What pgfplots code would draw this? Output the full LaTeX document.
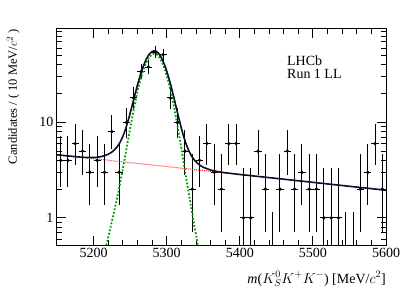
\documentclass[border=0pt]{standalone}
\usepackage{fontspec}
\setmainfont{Liberation Serif}
\usepackage{pgfplots}
\pgfplotsset{compat=1.18}
\usepackage{pgfplotstable}
\definecolor{fitnavy}{RGB}{15,15,45}
\definecolor{siggreen}{RGB}{0,160,0}
\definecolor{bkgred}{RGB}{255,40,40}

\pgfplotstableread{
m n ep em
5155 4 3.163 1.914
5165 4 3.163 1.914
5175 6 3.583 2.380
5185 5 3.382 2.160
5195 3 2.918 1.633
5205 4 3.163 1.914
5215 3 2.918 1.633
5225 8 3.945 2.768
5235 3 2.918 1.633
5245 10 4.266 3.109
5255 18 5.330 4.213
5265 34 6.895 5.809
5275 38 7.225 6.144
5285 54 8.399 7.331
5295 51 8.194 7.124
5305 18 5.330 4.213
5315 10 4.266 3.109
5325 5 3.382 2.160
5335 2 2.638 1.292
5345 4 3.163 1.914
5355 6 3.583 2.380
5365 3 2.918 1.633
5375 2 2.638 1.292
5385 6 3.583 2.380
5395 6 3.583 2.380
5405 1 2.300 0.827
5415 1 2.300 0.827
5425 5 3.382 2.160
5435 2 2.638 1.292
5455 2 2.638 1.292
5465 5 3.382 2.160
5475 2 2.638 1.292
5485 3 2.918 1.633
5495 2 2.638 1.292
5505 2 2.638 1.292
5515 1 2.300 0.827
5525 1 2.300 0.827
5535 1 2.300 0.827
5565 2 2.638 1.292
5575 3 2.918 1.633
5585 6 3.583 2.380
5595 2 2.638 1.292
}\datatab

% empty bins (0 candidates): drawn as upper error bar only
\pgfplotstableread{
m n ep em
5445 0.0001 1.147 0
5545 0.0001 1.147 0
5555 0.0001 1.147 0
}\zerotab

\begin{document}
\begin{tikzpicture}
\useasboundingbox (-57pt,-47pt) rectangle (350pt,245pt);
\begin{axis}[
  at={(0,0)}, anchor=south west,
  scale only axis, width=329pt, height=216pt,
  xmin=5150, xmax=5600, ymode=log, ymin=0.52, ymax=95,
  xtick={5200,5300,5400,5500,5600}, minor x tick num=4,
  ytick={1,10}, yticklabels={1,10},
  minor ytick={0.6,0.7,0.8,0.9,2,3,4,5,6,7,8,9,20,30,40,50,60,70,80,90},
  major tick length=9pt, minor tick length=5pt,
  tick style={black, line width=0.8pt},
  axis line style={line width=1pt},
  ticklabel style={font=\fontsize{14}{16}\selectfont},
  /pgf/number format/assume math mode=true,
  /pgf/number format/1000 sep={},
  xlabel={\textit{m}($K^0_S K^+K^-$) [MeV/$c^2$]},
  ylabel={Candidates / ( 10 MeV/$c^2$ )},
  xlabel style={at={(axis description cs:1,0)}, anchor=base east, yshift=-38pt, inner sep=0pt, font=\fontsize{14}{16}\selectfont},
  ylabel style={at={(axis description cs:-0.1216,1)}, anchor=base east, inner sep=0pt, font=\fontsize{12.5}{14}\selectfont},
]
\addplot[only marks, mark=*, mark size=1.5pt, black,
  error bars/.cd, x dir=both, x fixed=5, y dir=both, y explicit,
  error bar style={line width=1pt, black}, error mark=none]
  table[x=m, y=n, y error plus=ep, y error minus=em] {\datatab};
\addplot[only marks, mark=none,
  error bars/.cd, y dir=plus, y explicit,
  error bar style={line width=1pt, black}, error mark=none]
  table[x=m, y=n, y error plus=ep, y error minus=em] {\zerotab};
% background
\addplot[bkgred, line width=1pt, dash pattern=on 1pt off 1pt] coordinates {
(5150,4.580) (5300,3.444) (5450,2.590) (5600,1.948)};
% signal
\addplot[siggreen, line width=1.8pt, dash pattern=on 1.8pt off 1.8pt] coordinates {
(5205,0.187) (5210,0.286) (5215,0.427) (5220,0.627) (5224,0.848) (5228,1.152)
(5232,1.588) (5236,2.241) (5240,3.239) (5244,4.772) (5248,7.081) (5252,10.42)
(5256,14.99) (5260,20.83) (5264,27.72) (5268,35.14) (5272,42.25) (5276,48.06)
(5280,51.65) (5283,52.50) (5286,51.65) (5290,48.03) (5294,42.17) (5298,35.00)
(5302,27.51) (5306,20.56) (5310,14.65) (5314,10.04) (5318,6.67) (5322,4.347)
(5326,2.818) (5330,1.838) (5334,1.216) (5338,0.819) (5342,0.557) (5346,0.381)
(5350,0.260) (5360,0.094)};
% total
\addplot[fitnavy, line width=1.6pt] coordinates {
(5150,4.580) (5160,4.495) (5170,4.414) (5180,4.341) (5190,4.290) (5200,4.285)
(5205,4.313) (5210,4.373) (5215,4.475) (5220,4.637) (5224,4.827) (5228,5.101)
(5232,5.507) (5236,6.130) (5240,7.099) (5244,8.603) (5248,10.883) (5252,14.193)
(5256,18.735) (5260,24.546) (5264,31.408) (5268,38.800) (5272,45.882) (5276,51.665)
(5280,55.227) (5283,56.057) (5286,55.187) (5290,51.540) (5294,45.654) (5298,38.457)
(5302,30.941) (5306,23.965) (5310,18.030) (5314,13.394) (5318,9.998) (5322,7.650)
(5326,6.096) (5330,5.091) (5334,4.445) (5338,4.023) (5342,3.737) (5346,3.537)
(5350,3.392) (5360,3.167) (5370,3.046) (5380,2.968) (5400,2.848) (5450,2.590)
(5500,2.355) (5550,2.142) (5600,1.948)};
\node[anchor=base west, inner sep=0pt, font=\fontsize{14}{16}\selectfont] at (rel axis cs:0.699,0.833) {LHCb};
\node[anchor=base west, inner sep=0pt, font=\fontsize{14}{16}\selectfont] at (rel axis cs:0.699,0.769) {Run 1 LL};
\end{axis}
\end{tikzpicture}
\end{document}
